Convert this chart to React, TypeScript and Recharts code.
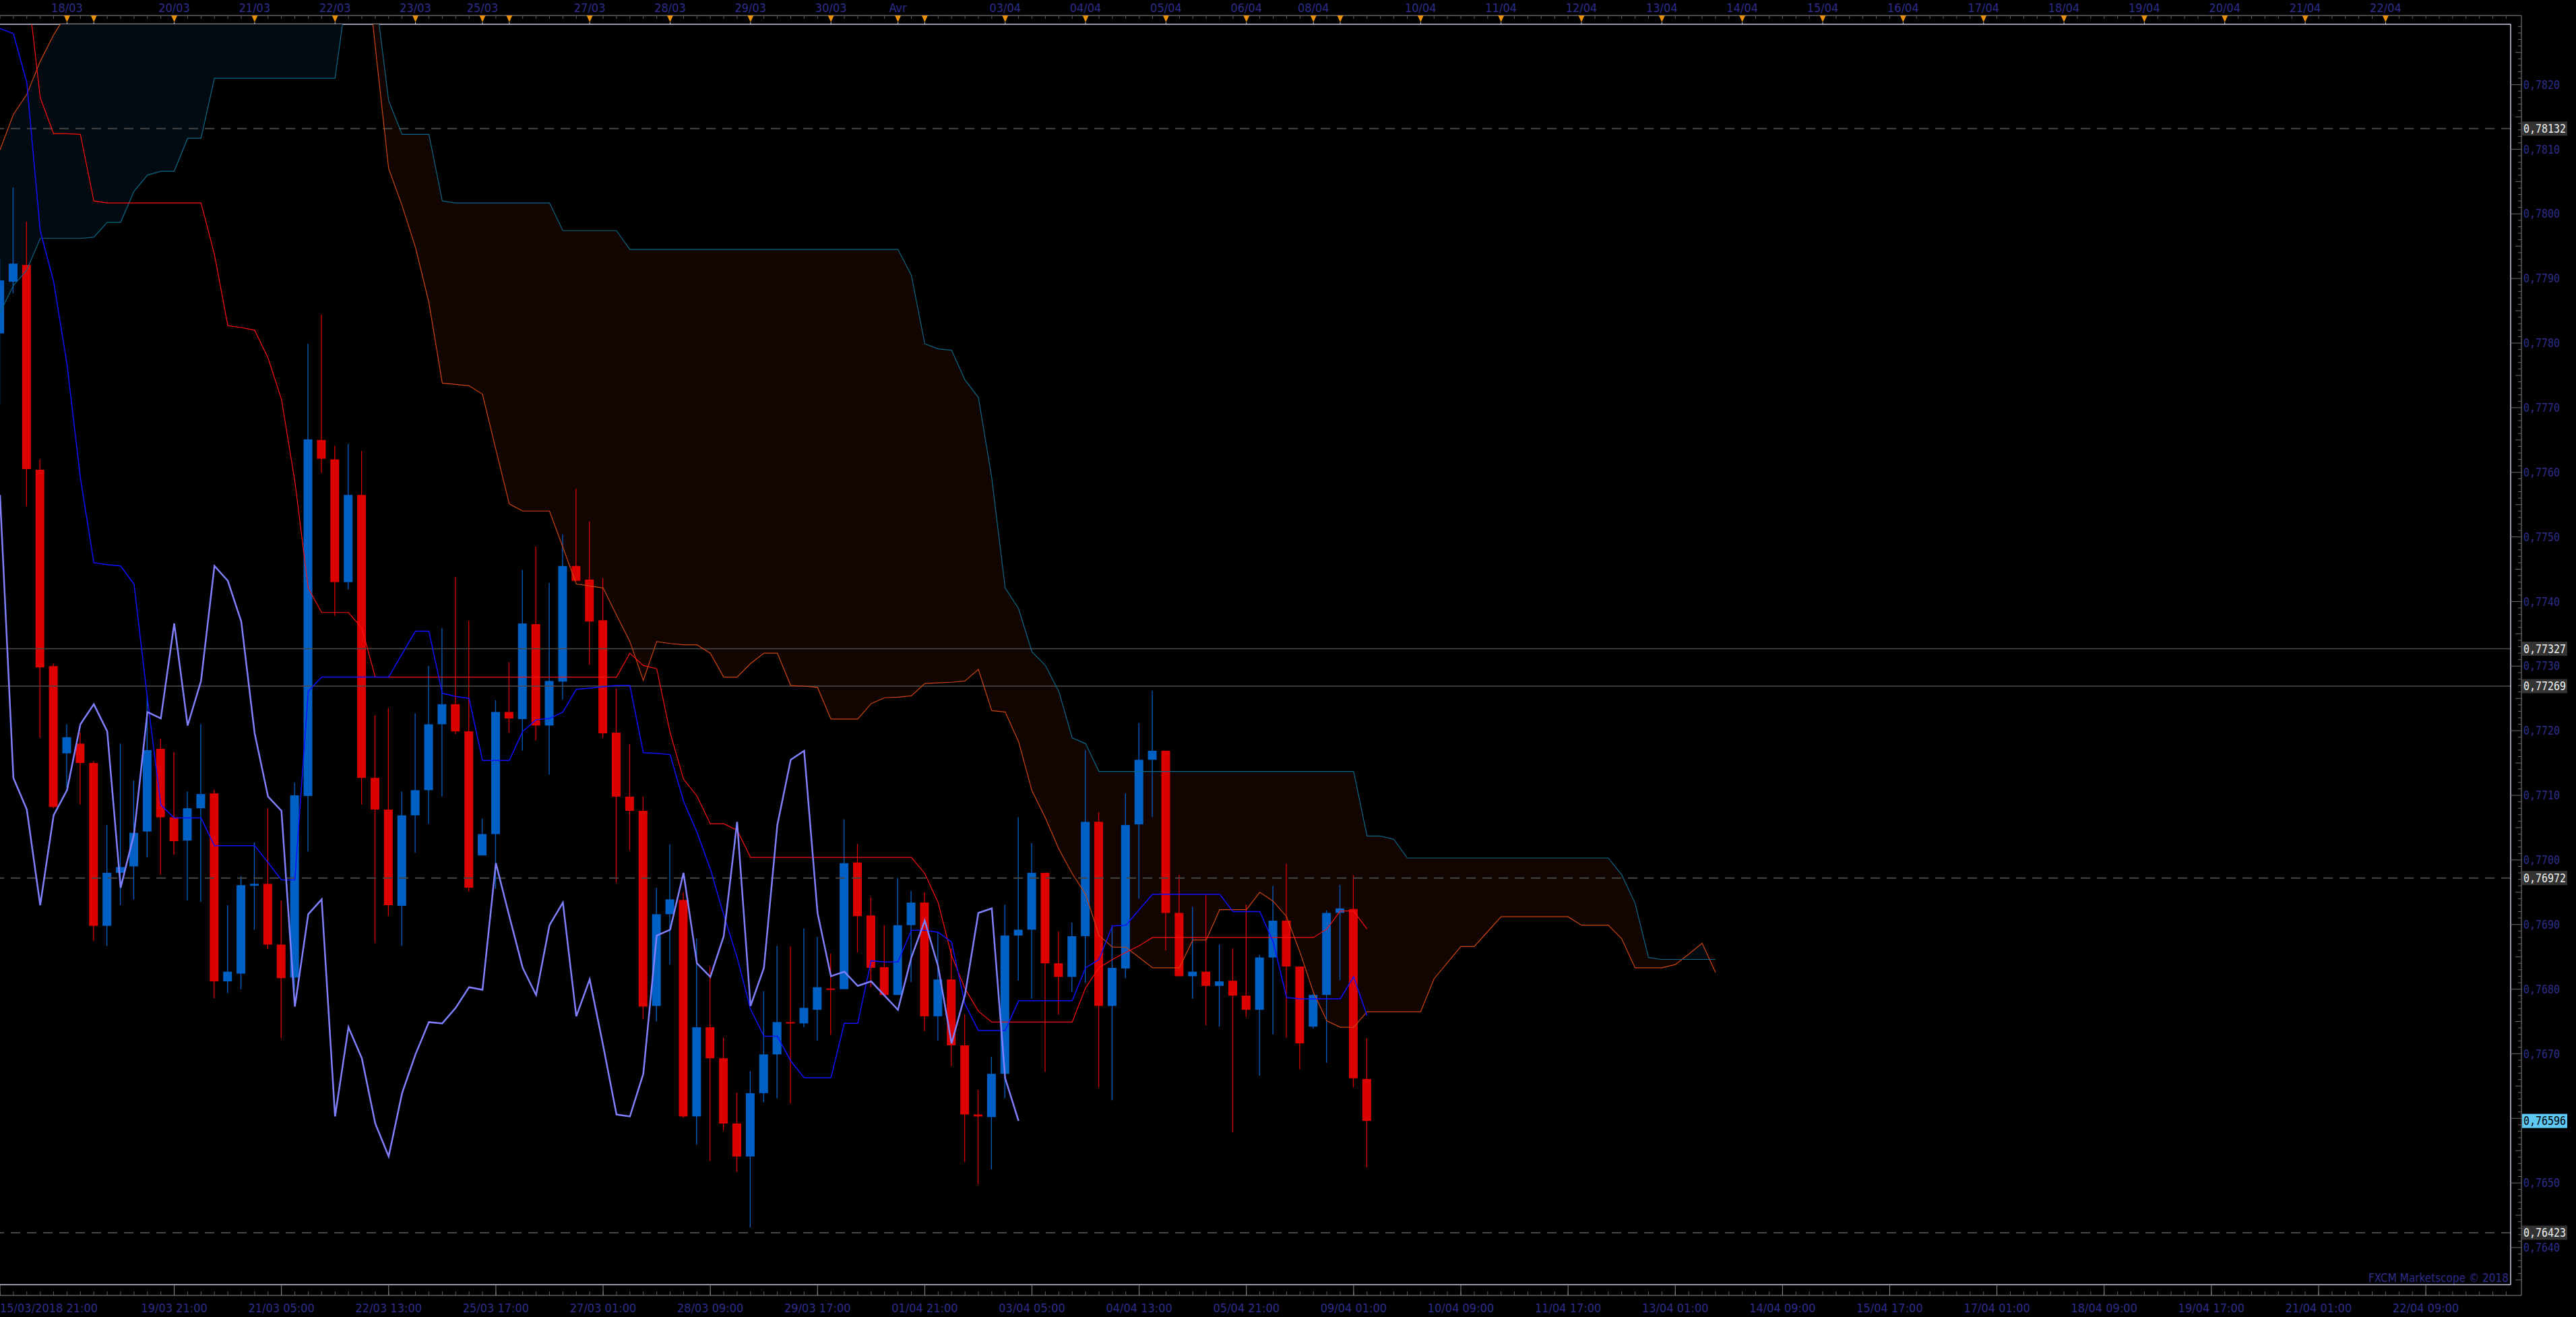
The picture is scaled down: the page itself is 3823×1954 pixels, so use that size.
import React from 'react';
import { Area, Bar, ComposedChart, Customized, Line, ReferenceLine, XAxis, YAxis } from 'recharts';

// AUD/USD H4 candles, 15/03/2018 21:00 .. 09/04/2018 01:00
const opens = [
  0.77815, 0.77895, 0.77921, 0.77604, 0.77300, 0.77165, 0.77180, 0.77150, 0.76898, 0.76980,
  0.76990, 0.77044, 0.77172, 0.77066, 0.77030, 0.77080, 0.77103, 0.76812, 0.76824, 0.76960,
  0.76963, 0.76869, 0.76818, 0.77099, 0.77650, 0.77620, 0.77430, 0.77565, 0.77127, 0.77078,
  0.76929, 0.77069, 0.77108, 0.77210, 0.77241, 0.77199, 0.77007, 0.77040, 0.77229, 0.77218,
  0.77365, 0.77208, 0.77276, 0.77455, 0.77434, 0.77371, 0.77197, 0.77098, 0.77076, 0.76774,
  0.76916, 0.76938, 0.76603, 0.76741, 0.76693, 0.76592, 0.76541, 0.76639, 0.76699, 0.76749,
  0.76747, 0.76768, 0.76801, 0.76800, 0.76996, 0.76914, 0.76834, 0.76791, 0.76899, 0.76934,
  0.76758, 0.76815, 0.76713, 0.76606, 0.76602, 0.76669, 0.76883, 0.76892, 0.76980, 0.76840,
  0.76819, 0.76882, 0.77059, 0.76774, 0.76832, 0.77055, 0.77155, 0.77169, 0.76918, 0.76820,
  0.76827, 0.76805, 0.76813, 0.76790, 0.76768, 0.76849, 0.76906, 0.76835, 0.76742, 0.76791,
  0.76918, 0.76924, 0.76661,
];
const highs = [
  0.77932, 0.78041, 0.77988, 0.77620, 0.77304, 0.77210, 0.77197, 0.77153, 0.77054, 0.77180,
  0.77123, 0.77256, 0.77188, 0.77167, 0.77106, 0.77210, 0.77109, 0.76930, 0.76975, 0.77027,
  0.77080, 0.76937, 0.77120, 0.77799, 0.77844, 0.77641, 0.77644, 0.77633, 0.77224, 0.77235,
  0.77106, 0.77227, 0.77300, 0.77359, 0.77438, 0.77370, 0.77064, 0.77247, 0.77306, 0.77449,
  0.77485, 0.77429, 0.77504, 0.77575, 0.77524, 0.77436, 0.77265, 0.77179, 0.77098, 0.76957,
  0.77024, 0.76950, 0.76878, 0.76835, 0.76725, 0.76640, 0.76673, 0.76797, 0.76867, 0.76866,
  0.76894, 0.76881, 0.76855, 0.77063, 0.77025, 0.76942, 0.76899, 0.76972, 0.76952, 0.76950,
  0.76887, 0.76863, 0.76761, 0.76644, 0.76695, 0.76931, 0.77066, 0.77026, 0.76980, 0.76889,
  0.76903, 0.77170, 0.77074, 0.76899, 0.77103, 0.77212, 0.77262, 0.77169, 0.76977, 0.76927,
  0.76945, 0.76869, 0.76863, 0.76931, 0.76853, 0.76960, 0.76994, 0.76835, 0.76793, 0.76922,
  0.76961, 0.76976, 0.76724,
];
const lows = [
  0.77705, 0.77877, 0.77547, 0.77189, 0.77080, 0.77112, 0.77086, 0.76875, 0.76867, 0.76930,
  0.76939, 0.77004, 0.76977, 0.77008, 0.76937, 0.76935, 0.76786, 0.76794, 0.76800, 0.76892,
  0.76862, 0.76724, 0.76798, 0.77013, 0.77599, 0.77378, 0.77419, 0.77086, 0.76871, 0.76913,
  0.76867, 0.77011, 0.77056, 0.77098, 0.77195, 0.76951, 0.77007, 0.76955, 0.77197, 0.77169,
  0.77185, 0.77132, 0.77248, 0.77432, 0.77302, 0.77189, 0.76965, 0.77015, 0.76753, 0.76750,
  0.76838, 0.76601, 0.76559, 0.76534, 0.76581, 0.76517, 0.76431, 0.76625, 0.76631, 0.76623,
  0.76741, 0.76720, 0.76729, 0.76800, 0.76857, 0.76803, 0.76791, 0.76791, 0.76811, 0.76735,
  0.76720, 0.76681, 0.76532, 0.76498, 0.76521, 0.76631, 0.76813, 0.76785, 0.76672, 0.76761,
  0.76796, 0.76810, 0.76648, 0.76628, 0.76817, 0.76940, 0.77066, 0.76860, 0.76820, 0.76785,
  0.76744, 0.76742, 0.76578, 0.76757, 0.76666, 0.76730, 0.76725, 0.76676, 0.76739, 0.76686,
  0.76814, 0.76648, 0.76524,
];
const closes = [
  0.77897, 0.77923, 0.77605, 0.77298, 0.77082, 0.77190, 0.77150, 0.76898, 0.76980, 0.76989,
  0.77042, 0.77170, 0.77066, 0.77029, 0.77080, 0.77102, 0.76812, 0.76827, 0.76961, 0.76963,
  0.76869, 0.76817, 0.77100, 0.77651, 0.77621, 0.77430, 0.77565, 0.77127, 0.77078, 0.76930,
  0.77069, 0.77108, 0.77210, 0.77241, 0.77199, 0.76957, 0.77040, 0.77229, 0.77219, 0.77366,
  0.77208, 0.77277, 0.77455, 0.77432, 0.77369, 0.77196, 0.77098, 0.77076, 0.76773, 0.76916,
  0.76939, 0.76603, 0.76741, 0.76693, 0.76592, 0.76541, 0.76639, 0.76699, 0.76749, 0.76747,
  0.76771, 0.76803, 0.76799, 0.76995, 0.76913, 0.76833, 0.76791, 0.76899, 0.76934, 0.76758,
  0.76815, 0.76713, 0.76606, 0.76603, 0.76669, 0.76883, 0.76892, 0.76980, 0.76840, 0.76819,
  0.76882, 0.77059, 0.76774, 0.76833, 0.77054, 0.77155, 0.77169, 0.76918, 0.76820, 0.76827,
  0.76805, 0.76812, 0.76790, 0.76768, 0.76849, 0.76906, 0.76835, 0.76716, 0.76791, 0.76918,
  0.76925, 0.76662, 0.76596,
];

// ichimoku lines
const tenkan = [
  0.78287, 0.78279, 0.78203, 0.77974, 0.77895, 0.77767, 0.77591, 0.77460, 0.77457, 0.77455,
  0.77427, 0.77250, 0.77085, 0.77065, 0.77065, 0.77065, 0.77022, 0.77022, 0.77022, 0.77022,
  0.76996, 0.76969, 0.76969, 0.77261, 0.77283, 0.77283, 0.77283, 0.77283, 0.77283, 0.77283,
  0.77319, 0.77354, 0.77354, 0.77258, 0.77253, 0.77250, 0.77154, 0.77154, 0.77154, 0.77199,
  0.77217, 0.77219, 0.77229, 0.77264, 0.77266, 0.77268, 0.77270, 0.77270, 0.77166, 0.77165,
  0.77163, 0.77091, 0.77043, 0.76986, 0.76915, 0.76849, 0.76769, 0.76727, 0.76727, 0.76689,
  0.76663, 0.76663, 0.76663, 0.76747, 0.76747, 0.76844, 0.76842, 0.76842, 0.76891, 0.76891,
  0.76888, 0.76873, 0.76777, 0.76736, 0.76736, 0.76736, 0.76782, 0.76782, 0.76782, 0.76782,
  0.76782, 0.76833, 0.76846, 0.76898, 0.76899, 0.76923, 0.76947, 0.76947, 0.76947, 0.76947,
  0.76947, 0.76947, 0.76920, 0.76920, 0.76920, 0.76873, 0.76787, 0.76785, 0.76785, 0.76785,
  0.76785, 0.76819, 0.76759,
];
const kijun = [
  0.78540, 0.78456, 0.78362, 0.78180, 0.78124, 0.78124, 0.78123, 0.78020, 0.78017, 0.78017,
  0.78017, 0.78017, 0.78017, 0.78017, 0.78017, 0.78017, 0.77937, 0.77827, 0.77824, 0.77820,
  0.77777, 0.77713, 0.77586, 0.77421, 0.77383, 0.77383, 0.77383, 0.77359, 0.77283, 0.77283,
  0.77283, 0.77283, 0.77283, 0.77283, 0.77283, 0.77283, 0.77283, 0.77283, 0.77283, 0.77283,
  0.77283, 0.77283, 0.77283, 0.77283, 0.77283, 0.77283, 0.77283, 0.77320, 0.77301, 0.77296,
  0.77197, 0.77125, 0.77099, 0.77056, 0.77056, 0.77046, 0.77004, 0.77004, 0.77004, 0.77004,
  0.77004, 0.77004, 0.77004, 0.77004, 0.77004, 0.77004, 0.77004, 0.77004, 0.77004, 0.76979,
  0.76934, 0.76852, 0.76801, 0.76766, 0.76749, 0.76749, 0.76749, 0.76749, 0.76749, 0.76749,
  0.76749, 0.76802, 0.76833, 0.76846, 0.76857, 0.76867, 0.76880, 0.76880, 0.76880, 0.76880,
  0.76880, 0.76880, 0.76880, 0.76880, 0.76880, 0.76880, 0.76880, 0.76880, 0.76880, 0.76893,
  0.76921, 0.76921, 0.76893,
];
const senkouA = [
  0.78099, 0.78154, 0.78185, 0.78236, 0.78277, 0.78310, 0.78340, 0.78360, 0.78380, 0.78400,
  0.78410, 0.78420, 0.78430, 0.78440, 0.78450, 0.78460, 0.78470, 0.78480, 0.78490, 0.78500,
  0.78510, 0.78520, 0.78530, 0.78535, 0.78540, 0.78540, 0.78540, 0.78456, 0.78259, 0.78070,
  0.78013, 0.77948, 0.77863, 0.77738, 0.77736, 0.77734, 0.77721, 0.77635, 0.77551, 0.77540,
  0.77540, 0.77540, 0.77484, 0.77427, 0.77424, 0.77421, 0.77379, 0.77338, 0.77278, 0.77338,
  0.77335, 0.77333, 0.77333, 0.77320, 0.77283, 0.77283, 0.77304, 0.77320, 0.77320, 0.77270,
  0.77269, 0.77267, 0.77218, 0.77218, 0.77218, 0.77242, 0.77251, 0.77252, 0.77254, 0.77273,
  0.77274, 0.77275, 0.77277, 0.77295, 0.77231, 0.77229, 0.77183, 0.77107, 0.77065, 0.77017,
  0.76979, 0.76947, 0.76883, 0.76865, 0.76865, 0.76849, 0.76833, 0.76833, 0.76833, 0.76876,
  0.76876, 0.76923, 0.76923, 0.76923, 0.76950, 0.76936, 0.76912, 0.76857, 0.76795, 0.76751,
  0.76741, 0.76741, 0.76765, 0.76765, 0.76765, 0.76765, 0.76765, 0.76816, 0.76841, 0.76866,
  0.76866, 0.76889, 0.76912, 0.76912, 0.76912, 0.76912, 0.76912, 0.76912, 0.76899, 0.76899,
  0.76899, 0.76878, 0.76833, 0.76833, 0.76833, 0.76838, 0.76854, 0.76871, 0.76826,
];
const senkouB = [
  0.77847, 0.77889, 0.77913, 0.77962, 0.77962, 0.77962, 0.77962, 0.77964, 0.77987, 0.77987,
  0.78035, 0.78060, 0.78066, 0.78066, 0.78117, 0.78117, 0.78210, 0.78210, 0.78210, 0.78210,
  0.78210, 0.78210, 0.78210, 0.78210, 0.78210, 0.78210, 0.78360, 0.78488, 0.78341, 0.78175,
  0.78123, 0.78123, 0.78123, 0.78020, 0.78017, 0.78017, 0.78017, 0.78017, 0.78017, 0.78017,
  0.78017, 0.78017, 0.77974, 0.77974, 0.77974, 0.77974, 0.77974, 0.77945, 0.77945, 0.77945,
  0.77945, 0.77945, 0.77945, 0.77945, 0.77945, 0.77945, 0.77945, 0.77945, 0.77945, 0.77945,
  0.77945, 0.77945, 0.77945, 0.77945, 0.77945, 0.77945, 0.77945, 0.77945, 0.77905, 0.77799,
  0.77791, 0.77789, 0.77743, 0.77716, 0.77591, 0.77421, 0.77389, 0.77322, 0.77301, 0.77261,
  0.77189, 0.77180, 0.77137, 0.77137, 0.77137, 0.77137, 0.77137, 0.77137, 0.77137, 0.77137,
  0.77137, 0.77137, 0.77137, 0.77137, 0.77137, 0.77137, 0.77137, 0.77137, 0.77137, 0.77137,
  0.77137, 0.77137, 0.77037, 0.77037, 0.77032, 0.77003, 0.77003, 0.77003, 0.77003, 0.77003,
  0.77003, 0.77003, 0.77003, 0.77003, 0.77003, 0.77003, 0.77003, 0.77003, 0.77003, 0.77003,
  0.77003, 0.76977, 0.76933, 0.76849, 0.76846, 0.76846, 0.76846, 0.76846, 0.76846,
];
const CHIKOU_SHIFT = 26;

const bottomTickIdx = [0, 13, 21, 29, 37, 45, 53, 61, 69, 77, 85, 93, 101, 109, 117, 125, 133, 141, 149, 157, 165, 173, 181];
const bottomTickText = [
  '15/03/2018 21:00', '19/03 21:00', '21/03 05:00', '22/03 13:00', '25/03 17:00', '27/03 01:00',
  '28/03 09:00', '29/03 17:00', '01/04 21:00', '03/04 05:00', '04/04 13:00', '05/04 21:00',
  '09/04 01:00', '10/04 09:00', '11/04 17:00', '13/04 01:00', '14/04 09:00', '15/04 17:00',
  '17/04 01:00', '18/04 09:00', '19/04 17:00', '21/04 01:00', '22/04 09:00',
];
const dayMarkIdx = [5, 7, 13, 19, 25, 31, 36, 38, 44, 50, 56, 62, 67, 69, 75, 81, 87, 93, 98, 100,
  106, 112, 118, 124, 130, 136, 142, 148, 154, 160, 166, 172, 178];
const dayMarkText = ['18/03', '', '20/03', '21/03', '22/03', '23/03', '25/03', '', '27/03', '28/03',
  '29/03', '30/03', 'Avr', '', '03/04', '04/04', '05/04', '06/04', '08/04', '',
  '10/04', '11/04', '12/04', '13/04', '14/04', '15/04', '16/04', '17/04', '18/04', '19/04',
  '20/04', '21/04', '22/04'];

const dashedLevels = [0.78132, 0.76972, 0.76423];
const solidLevels = [0.77327, 0.77269];
const lastPrice = 0.76596;
const boxedLevels = [...dashedLevels, ...solidLevels, lastPrice];

// layout
const W = 3823;
const H = 1954;
const PLOT_TOP = 36;
const PLOT_BOTTOM = 1906;
const PLOT_RIGHT = 3726;
const STRIP_TOP = 23;
const STRIP_BOTTOM = 1922;
const AXIS_X = 3742;
const X_MAX = 187.33;
const Y_MIN = 0.763426;
const Y_MAX = 0.782935;

const RED = '#dc0000';
const BLUE = '#0060c4';
const BORDER = '#c8cce0';
const LABEL = '#2e2e88';
const DATE_FONT = "'DejaVu Sans Condensed', 'Liberation Sans Narrow', 'DejaVu Sans', sans-serif";
const PRICE_FONT = "'DejaVu Sans Mono', 'Liberation Mono', monospace";

const rows = senkouA.map((a, i) => ({
  i,
  a,
  b: senkouB[i],
  o: opens[i],
  h: highs[i],
  l: lows[i],
  c: closes[i],
  tenkan: tenkan[i],
  kijun: kijun[i],
  chikou: closes[i + CHIKOU_SHIFT],
}));

const xTicks: number[] = [];
for (let i = 0; i <= 187; i++) xTicks.push(i);
const yTicks: number[] = [];
for (let k = 7635; k <= 7829; k++) yTicks.push(k / 10000);

const fmt = (v: number, d: number) => v.toFixed(d).replace('.', ',');

const Candle = (props: any) => {
  const { x, y, width, height, payload } = props;
  if (!payload || payload.o === undefined) return null;
  const { o, h, l, c } = payload;
  const top = Math.min(y, y + height);
  const span = Math.abs(height);
  const py = (p: number) => top + ((h - p) / (h - l)) * span;
  const color = c >= o ? BLUE : RED;
  const cx = x + width / 2;
  const bt = py(Math.max(o, c));
  const bb = py(Math.min(o, c));
  return (
    <g>
      <line x1={cx} x2={cx} y1={top} y2={top + span} stroke={color} strokeWidth={1.3} />
      <rect x={x} y={bt} width={width} height={Math.max(bb - bt, 2)} fill={color} />
    </g>
  );
};

const XTick = (props: any) => {
  const x = props.x;
  const i = props.payload.value;
  const bi = bottomTickIdx.indexOf(i);
  const ti = dayMarkIdx.indexOf(i);
  return (
    <g>
      <line x1={x} x2={x} y1={STRIP_BOTTOM - 6} y2={STRIP_BOTTOM} stroke="#5c5c5c" />
      <line x1={x} x2={x} y1={STRIP_TOP} y2={STRIP_TOP + 5} stroke="#5c5c5c" />
      {bi >= 0 && (
        <g>
          <line x1={x} x2={x} y1={PLOT_BOTTOM} y2={STRIP_BOTTOM} stroke="#8c8c8c" />
          <text x={x} y={1947} textAnchor={bi === 0 ? 'start' : 'middle'} fill={LABEL}
            fontFamily={DATE_FONT} fontSize={18} style={{ fontStretch: 'condensed' }}>
            {bottomTickText[bi]}
          </text>
        </g>
      )}
      {ti >= 0 && (
        <g>
          <path d={`M${x - 4.5},${STRIP_TOP} L${x + 4.5},${STRIP_TOP} L${x},${STRIP_TOP + 10} Z`} fill="#e8900c" />
          <line x1={x} x2={x} y1={STRIP_TOP + 10} y2={PLOT_TOP} stroke={BORDER} />
          <text x={x} y={18} textAnchor="middle" fill={LABEL} fontFamily={DATE_FONT} fontSize={18}
            style={{ fontStretch: 'condensed' }}>
            {dayMarkText[ti]}
          </text>
        </g>
      )}
    </g>
  );
};

const YTick = (props: any) => {
  const { y, payload } = props;
  const v = payload.value;
  const k = Math.round(v * 10000);
  const major = k % 10 === 0;
  const half = k % 5 === 0;
  const x1 = major ? PLOT_RIGHT : half ? PLOT_RIGHT + 7 : PLOT_RIGHT + 11;
  // the price boxes cover any scale label that sits right under them
  const covered = boxedLevels.some((b) => Math.abs(b - v) < 0.00014);
  return (
    <g>
      <line x1={x1} x2={AXIS_X} y1={y} y2={y} stroke="#6a6a6a" />
      {major && !covered && (
        <text x={AXIS_X + 3} y={y} dy="0.36em" fill={LABEL} fontFamily={PRICE_FONT} fontSize={17}
          textLength={54} lengthAdjust="spacingAndGlyphs">
          {fmt(v, 4)}
        </text>
      )}
    </g>
  );
};

const PriceBox = (props: any) => {
  const { viewBox, text, bg, fg } = props;
  if (!viewBox) return null;
  const y = viewBox.y;
  return (
    <g>
      <rect x={AXIS_X + 1} y={y - 10.5} width={67} height={21} fill={bg} />
      <text x={AXIS_X + 3} y={y} dy="0.36em" fill={fg} fontFamily={PRICE_FONT} fontSize={17}
        textLength={63} lengthAdjust="spacingAndGlyphs">
        {text}
      </text>
    </g>
  );
};

const Frame = () => (
  <g>
    <line x1={0} x2={AXIS_X} y1={STRIP_TOP} y2={STRIP_TOP} stroke="#5c5c5c" strokeWidth={1.5} />
    <line x1={0} x2={PLOT_RIGHT} y1={PLOT_TOP} y2={PLOT_TOP} stroke={BORDER} strokeWidth={1.5} />
    <line x1={AXIS_X} x2={AXIS_X} y1={STRIP_TOP} y2={STRIP_BOTTOM} stroke="#5c5c5c" strokeWidth={1.5} />
    <line x1={0} x2={AXIS_X} y1={STRIP_BOTTOM} y2={STRIP_BOTTOM} stroke="#5c5c5c" strokeWidth={1.5} />
    <text x={PLOT_RIGHT - 3} y={1902} textAnchor="end" fill={LABEL} fontFamily={DATE_FONT} fontSize={17}
      style={{ fontStretch: 'condensed' }}>
      FXCM Marketscope © 2018
    </text>
  </g>
);

export default function App() {
  return (
    <div style={{ width: W, height: H, background: '#000' }}>
      <style>{'body{margin:0;background:#000}'}</style>
      <ComposedChart width={W} height={H} data={rows} margin={{ top: PLOT_TOP, right: 0, bottom: 0, left: 0 }}>
        <XAxis dataKey="i" type="number" domain={[0, X_MAX]} allowDataOverflow ticks={xTicks} interval={0}
          height={H - PLOT_BOTTOM} tick={(p: any) => <XTick {...p} />} tickLine={false}
          axisLine={{ stroke: BORDER, strokeWidth: 1.5 }} />
        <YAxis orientation="right" width={W - PLOT_RIGHT} domain={[Y_MIN, Y_MAX]} allowDataOverflow
          ticks={yTicks} interval={0} tick={(p: any) => <YTick {...p} />} tickLine={false}
          axisLine={{ stroke: BORDER, strokeWidth: 1.5 }} />

        <Area dataKey={(r: any) => [r.b, Math.max(r.a, r.b)]} fill="#030b12" fillOpacity={1} stroke="none"
          isAnimationActive={false} />
        <Area dataKey={(r: any) => [r.a, Math.max(r.a, r.b)]} fill="#120400" fillOpacity={1} stroke="none"
          isAnimationActive={false} />

        {solidLevels.map((v) => (
          <ReferenceLine key={v} y={v} stroke="#4c4c4c" strokeWidth={1.5}
            label={<PriceBox text={fmt(v, 5)} bg="#333333" fg="#f0f0f0" />} />
        ))}
        {dashedLevels.map((v) => (
          <ReferenceLine key={v} y={v} stroke="#464646" strokeWidth={2} strokeDasharray="14 10"
            label={<PriceBox text={fmt(v, 5)} bg="#333333" fg="#f0f0f0" />} />
        ))}
        <ReferenceLine y={lastPrice} stroke="transparent"
          label={<PriceBox text={fmt(lastPrice, 5)} bg="#5ec8f5" fg="#000000" />} />

        <Line dataKey="a" stroke="#d04510" strokeWidth={1.2} dot={false} activeDot={false} isAnimationActive={false} />
        <Line dataKey="b" stroke="#0d6888" strokeWidth={1.2} dot={false} activeDot={false} isAnimationActive={false} />

        <Bar dataKey={(r: any) => (r.h === undefined ? null : [r.l, r.h])} barSize={13} shape={Candle}
          isAnimationActive={false} />

        <Line dataKey="kijun" stroke="#ff1010" strokeWidth={1.2} dot={false} activeDot={false} isAnimationActive={false} />
        <Line dataKey="tenkan" stroke="#1010ff" strokeWidth={1.5} dot={false} activeDot={false} isAnimationActive={false} />
        <Line dataKey="chikou" stroke="#8080ff" strokeWidth={2.5} dot={false} activeDot={false} isAnimationActive={false} />

        <Customized component={Frame} />
      </ComposedChart>
    </div>
  );
}
